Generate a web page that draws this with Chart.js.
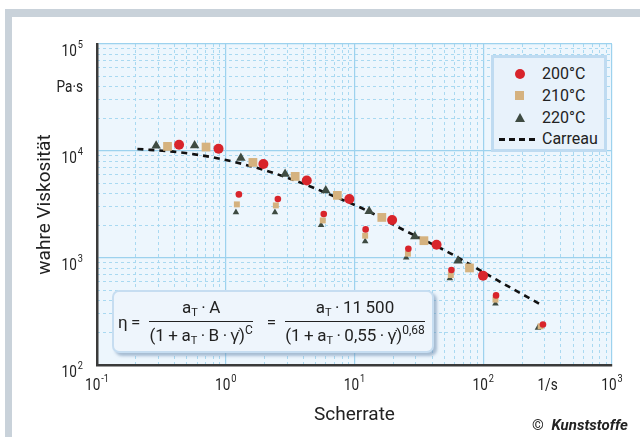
<!DOCTYPE html>
<html lang="de">
<head>
<meta charset="UTF-8">
<title>wahre Viskosität – Scherrate</title>
<script src="https://cdn.jsdelivr.net/npm/chart.js"></script>
<style>
  body { margin: 0; width: 640px; height: 437px; overflow: hidden; background: #fff; position: relative;
         font-family: Roboto, sans-serif; color: #222; }
  #grau { position: absolute; left: 5px; top: 9px; right: 0; bottom: 0; background: #c9d2da; }
  #weiss { position: absolute; left: 12px; top: 17px; right: 0; bottom: 0; background: #fff; }
  #rahmen { position: absolute; left: 0; top: 0; width: 640px; height: 437px; }
  #legende { position: absolute; left: 491px; top: 55px; width: 110px; height: 91px;
             background: #e8f2fb; border: 3px solid #bfdbf1; font-size: 16px; }
  .zeile { position: absolute; left: 0; height: 20px; line-height: 20px; }
  .zeile span.t { position: absolute; left: 48px; white-space: nowrap; }
  .kreis { position: absolute; left: 21px; top: 5px; width: 10px; height: 10px; border-radius: 50%; background: #d8242b; }
  .quadrat { position: absolute; left: 21px; top: 5px; width: 9px; height: 9px; background: #d5b27f; }
  .dreieck { position: absolute; left: 21px; top: 5px; width: 0; height: 0;
             border-left: 5px solid transparent; border-right: 5px solid transparent; border-bottom: 9px solid #3e4b42; }
  .strich { position: absolute; left: 5px; top: 9px; width: 36px; border-top: 3px dashed #111; }
  #formel { position: absolute; left: 112px; top: 290px; width: 318px; height: 59px;
            background: #eef5fc; border: 2px solid #c6ddf1; border-radius: 7px;
            box-shadow: 3px 3px 3px rgba(110,140,175,0.55);
            display: flex; align-items: center; font-size: 17px; white-space: nowrap; }
  .bruch { display: inline-flex; flex-direction: column; align-items: center; }
  .bruch .z { border-bottom: 1.5px solid #222; padding: 0 2px 2px; align-self: stretch; text-align: center; }
  .bruch .n { padding-top: 1px; }
  sub { font-size: 11px; vertical-align: -3px; }
  sup { font-size: 12px; vertical-align: 7px; }
  #copy { position: absolute; left: 532px; top: 416px; font-size: 15px; white-space: nowrap; }
  #copy b { font-style: italic; font-weight: bold; margin-left: 4px; }
</style>
</head>
<body>
  <div id="grau"></div>
  <div id="weiss"></div>
  <div id="rahmen"><canvas id="diagramm"></canvas></div>

  <div id="legende">
    <div class="zeile" style="top:6px"><i class="kreis"></i><span class="t">200°C</span></div>
    <div class="zeile" style="top:28px"><i class="quadrat"></i><span class="t">210°C</span></div>
    <div class="zeile" style="top:50px"><i class="dreieck"></i><span class="t">220°C</span></div>
    <div class="zeile" style="top:71px"><i class="strich"></i><span class="t">Carreau</span></div>
  </div>

  <div id="formel">
    <span style="margin-left:4px">η&thinsp;=</span>
    <span class="bruch" style="margin-left:9px"><span class="z">a<sub>T</sub>&thinsp;·&thinsp;A</span><span class="n">(1&thinsp;+&thinsp;a<sub>T</sub>&thinsp;·&thinsp;B&thinsp;·&thinsp;γ̇)<sup>C</sup></span></span>
    <span style="margin-left:14px">=</span>
    <span class="bruch" style="margin-left:9px"><span class="z">a<sub>T</sub>&thinsp;·&thinsp;11&thinsp;500</span><span class="n">(1&thinsp;+&thinsp;a<sub>T</sub>&thinsp;·&thinsp;0,55&thinsp;·&thinsp;γ̇)<sup>0,68</sup></span></span>
  </div>

  <div id="copy">© <b>Kunststoffe</b></div>

  <script>
    // Messpunkte, Hauptkurve
    const x200 = [0.434, 0.879, 1.96, 4.26, 9.12, 19.6, 43.4, 99.6];
    const y200 = [11460, 10500, 7560, 5310, 3560, 2265, 1330, 684];
    const x210 = [0.353, 0.703, 1.625, 3.46, 7.36, 16.3, 34.6, 78.2];
    const y210 = [11040, 10890, 7820, 5790, 3850, 2395, 1452, 807];
    const x220 = [0.288, 0.573, 1.31, 2.89, 5.98, 13.0, 29.4, 63.8];
    const y220 = [11220, 11280, 8600, 6100, 4280, 2730, 1590, 944];

    // Messpunkte, untere Gruppen
    const x200b = [1.265, 2.54, 5.77, 12.2, 26.2, 56.6, 125.7, 291];
    const y200b = [3930, 3560, 2580, 1850, 1222, 773, 447, 239];
    const x210b = [1.22, 2.45, 5.67, 12.1, 26.0, 56.0, 124.4, 279];
    const y210b = [3170, 3100, 2245, 1615, 1097, 693, 408, 230];
    const x220b = [1.20, 2.41, 5.50, 12.1, 25.2, 55.0, 124.4, 266];
    const y220b = [2670, 2670, 2035, 1430, 1007, 644, 374, 223];

    // Carreau-Kurve
    const xCarreau = [0.206, 0.413, 0.84, 1.69, 3.32, 6.46, 12.4, 23.9, 55.0, 126.5, 291];
    const yCarreau = [10450, 9790, 8610, 7030, 5395, 3910, 2785, 1837, 1113, 627, 358];

    // Achsenbeschriftung: Basis + Hochzahl
    const xTicks = [0.1, 1, 10, 100, 316, 1000];
    const xBasis = ['10', '10', '10', '10', '1/s', '10'];
    const xHoch = ['-1', '0', '1', '2', '', '3'];
    const yTicks = [100, 1000, 10000, 40000, 100000];
    const yBasis = ['10', '10', '10', 'Pa·s', '10'];
    const yHoch = ['2', '3', '4', '', '5'];
    const xDekaden = [0.1, 1, 10, 100, 1000];
    const yDekaden = [100, 1000, 10000, 100000];

    const punkte = (xs, ys) => xs.map((x, i) => ({ x: x, y: ys[i] }));
    const feinTicks = dek => {
      const t = [];
      dek.forEach(d => { for (let k = 1; k <= 9; k++) t.push({ value: d * k }); });
      return t;
    };

    const hauptLinie = '#9dd2ee';
    const feinLinie = '#a9d9f1';
    const leer = 'rgba(0,0,0,0)';
    const schrift = 'Roboto, sans-serif';

    const flaeche = {
      id: 'flaeche',
      beforeDraw(chart) {
        const { ctx, chartArea: a } = chart;
        ctx.save();
        ctx.fillStyle = '#edf6fd';
        ctx.fillRect(a.left, a.top, a.right - a.left, a.bottom - a.top);
        ctx.restore();
      }
    };

    // Zehnerpotenzen mit echter Hochzahl, schmal gesetzt
    const schmal = 0.8;
    function beschrifte(ctx, basis, hoch, x, y, ausrichtung) {
      ctx.font = '17px ' + schrift;
      const wb = ctx.measureText(basis).width * schmal;
      ctx.font = '11.5px ' + schrift;
      const wh = hoch ? ctx.measureText(hoch).width * schmal + 1 : 0;
      const start = ausrichtung === 'center' ? x - (wb + wh) / 2 : x - (wb + wh);
      ctx.save();
      ctx.translate(start, y);
      ctx.scale(schmal, 1);
      ctx.font = '17px ' + schrift;
      ctx.fillText(basis, 0, 0);
      if (hoch) {
        ctx.font = '11.5px ' + schrift;
        ctx.fillText(hoch, (wb + 1) / schmal, -8.5);
      }
      ctx.restore();
    }

    const hochzahlen = {
      id: 'hochzahlen',
      afterDraw(chart) {
        const { ctx } = chart;
        const sx = chart.scales.x, sy = chart.scales.y;
        ctx.save();
        ctx.fillStyle = '#222';
        ctx.textBaseline = 'alphabetic';
        ctx.textAlign = 'left';
        xTicks.forEach((v, i) => beschrifte(ctx, xBasis[i], xHoch[i], sx.getPixelForValue(v), sx.top + 25, 'center'));
        yTicks.forEach((v, i) => beschrifte(ctx, yBasis[i], yHoch[i], 83, sy.getPixelForValue(v) + (yHoch[i] ? 12 : 5), 'right'));
        ctx.restore();
      }
    };

    new Chart(document.getElementById('diagramm'), {
      type: 'scatter',
      data: {
        datasets: [
          { label: '200°C', data: punkte(x200, y200), pointStyle: 'circle', pointRadius: 5, backgroundColor: '#d8242b', borderWidth: 0 },
          { label: '200°C', data: punkte(x200b, y200b), pointStyle: 'circle', pointRadius: 3.3, backgroundColor: '#d8242b', borderWidth: 0 },
          { label: '210°C', data: punkte(x210, y210), pointStyle: 'rect', pointRadius: 6.2, backgroundColor: '#d5b27f', borderWidth: 0 },
          { label: '210°C', data: punkte(x210b, y210b), pointStyle: 'rect', pointRadius: 4.2, backgroundColor: '#d5b27f', borderWidth: 0 },
          { label: '220°C', data: punkte(x220, y220), pointStyle: 'triangle', pointRadius: 5.5, backgroundColor: '#3e4b42', borderWidth: 0 },
          { label: '220°C', data: punkte(x220b, y220b), pointStyle: 'triangle', pointRadius: 3.8, backgroundColor: '#3e4b42', borderWidth: 0 },
          { label: 'Carreau', data: punkte(xCarreau, yCarreau), showLine: true, pointRadius: 0,
            borderColor: '#111', borderWidth: 2.6, borderDash: [6, 5], cubicInterpolationMode: 'monotone' }
        ]
      },
      options: {
        responsive: true,
        maintainAspectRatio: false,
        animation: false,
        events: [],
        layout: { padding: { left: 0, top: 44, right: 28, bottom: 0 } },
        plugins: { legend: { display: false }, tooltip: { enabled: false } },
        scales: {
          x: {
            type: 'logarithmic', position: 'bottom', min: 0.1, max: 1000,
            afterBuildTicks: s => { s.ticks = xDekaden.map(v => ({ value: v })); },
            afterFit: s => { s.height = 72; },
            ticks: { display: false },
            grid: { drawTicks: false, lineWidth: 1.2, color: hauptLinie },
            border: { color: '#3a3a3a', width: 2.5 },
            title: { display: true, text: 'Scherrate', color: '#222', padding: { bottom: 10 },
                     font: { family: schrift, size: 19 } }
          },
          xFein: {
            type: 'logarithmic', position: 'bottom', min: 0.1, max: 1000,
            afterBuildTicks: s => { s.ticks = feinTicks(xDekaden.slice(0, -1)); },
            afterFit: s => { s.height = 0; },
            ticks: { display: false },
            grid: { drawTicks: false, lineWidth: 1,
                    color: c => xDekaden.includes(c.tick && c.tick.value) ? leer : feinLinie },
            border: { display: false, dash: [3, 3] }
          },
          y: {
            type: 'logarithmic', position: 'left', min: 100, max: 100000,
            afterBuildTicks: s => { s.ticks = yDekaden.map(v => ({ value: v })); },
            afterFit: s => { s.width = 97; },
            ticks: { display: false },
            grid: { drawTicks: false, lineWidth: 1.2, color: hauptLinie },
            border: { color: '#3a3a3a', width: 2.5 },
            title: { display: true, text: 'wahre Viskosität', color: '#222', padding: { top: 34 },
                     font: { family: schrift, size: 19 } }
          },
          yFein: {
            type: 'logarithmic', position: 'left', min: 100, max: 100000,
            afterBuildTicks: s => { s.ticks = feinTicks(yDekaden.slice(0, -1)); },
            afterFit: s => { s.width = 0; },
            ticks: { display: false },
            grid: { drawTicks: false, lineWidth: 1,
                    color: c => yDekaden.includes(c.tick && c.tick.value) ? leer : feinLinie },
            border: { display: false, dash: [3, 3] }
          }
        }
      },
      plugins: [flaeche, hochzahlen]
    });
  </script>
</body>
</html>
